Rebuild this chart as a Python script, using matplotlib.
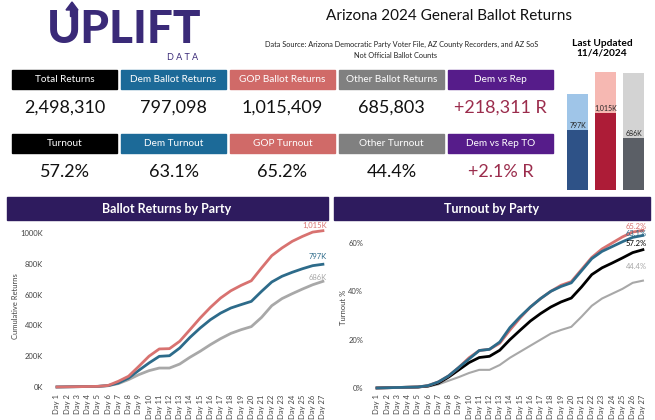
import matplotlib
matplotlib.use('Agg')
import matplotlib.pyplot as plt
from matplotlib.patches import Rectangle
import numpy as np

plt.rcParams['font.family'] = ['Lato', 'DejaVu Sans']

W, H = 655, 420

days = [f'Day {i}' for i in range(1, 28)]

# cumulative returns, thousands
rep_ret = [0, 1, 2, 3, 4, 10, 37, 70, 134, 200, 247, 249, 297, 372, 448, 517, 578, 625, 660, 690, 773, 853, 903, 946, 978, 1006, 1015]
dem_ret = [0, 1, 2, 3, 4, 9, 26, 58, 108, 156, 199, 203, 253, 322, 383, 437, 480, 513, 535, 556, 621, 682, 719, 745, 768, 788, 797]
oth_ret = [0, 1, 2, 3, 4, 8, 22, 48, 80, 106, 123, 123, 149, 193, 232, 275, 314, 348, 372, 392, 452, 528, 574, 606, 636, 664, 686]

# turnout %
tot_to = [0, 0.1, 0.2, 0.3, 0.4, 0.8, 2, 4.5, 7.5, 10.5, 12.6, 13.1, 15.6, 20, 23.9, 27.7, 30.8, 33.5, 35.6, 37.2, 41.8, 46.9, 49.7, 51.7, 53.8, 56, 57.2]
dem_to = [0, 0.1, 0.2, 0.3, 0.4, 1, 2.5, 5, 8.5, 12, 15.5, 16, 19, 25, 29.5, 33.5, 37, 40, 42, 43.5, 48.5, 53.5, 56.5, 58.5, 60.5, 62.3, 63.1]
rep_to = [0, 0.1, 0.2, 0.3, 0.4, 1, 2.5, 5, 8.5, 12.5, 15.5, 16, 18.5, 24, 29, 33.5, 37, 40, 42.5, 44, 49, 54, 57.5, 60, 62.5, 64.5, 65.2]
oth_to = [0, 0.1, 0.1, 0.2, 0.3, 0.6, 1.5, 3, 4.5, 6.2, 7.5, 7.5, 9.5, 12.5, 15, 17.5, 20, 22.5, 24, 25.3, 29.5, 34, 37, 39, 41, 43.5, 44.4]

# KPI cards
kpi_row1 = ['Total Returns', 'Dem Ballot Returns', 'GOP Ballot Returns', 'Other Ballot Returns', 'Dem vs Rep']
kpi_val1 = ['2,498,310', '797,098', '1,015,409', '685,803', '+218,311 R']
kpi_row2 = ['Turnout', 'Dem Turnout', 'GOP Turnout', 'Other Turnout', 'Dem vs Rep TO']
kpi_val2 = ['57.2%', '63.1%', '65.2%', '44.4%', '+2.1% R']
kpi_colors = ['#000000', '#1c6a98', '#d06a68', '#808080', '#561c8a']

# stacked bars: returns vs registered (thousands)
bar_parties = ['Dem', 'GOP', 'Other']
bar_returns = [797, 1015, 686]
bar_registered = [1263, 1557, 1545]
bar_labels = ['797K', '1,015K', '686K']

fig = plt.figure(figsize=(W / 100, H / 100), dpi=100)


def fx(x):
    return x / W


def fy(y):
    return 1 - y / H


def rect(x0, y0, x1, y1):
    return [fx(x0), fy(y1), (x1 - x0) / W, (y1 - y0) / H]


logo = '#3a2a78'
fig.text(fx(124), fy(30), 'UPLIFT', fontsize=33, fontweight='black', color=logo,
         ha='center', va='center')
fig.text(fx(183), fy(57), 'D A T A', fontsize=6.5, color=logo, ha='center', va='center')
fig.patches.append(plt.Polygon([[fx(66), fy(10)], [fx(72), fy(2)], [fx(78), fy(10)]],
                               closed=True, color=logo, transform=fig.transFigure))
fig.patches.append(Rectangle((fx(70), fy(16)), 4 / W, 7 / H, color=logo,
                             transform=fig.transFigure))

fig.text(fx(449), fy(16), 'Arizona 2024 General Ballot Returns', fontsize=11,
         ha='center', va='center', color='#111111')
fig.text(fx(402), fy(44), 'Data Source: Arizona Democratic Party Voter File, AZ County Recorders, and AZ SoS',
         fontsize=5.3, ha='center', va='center', color='#222222')
fig.text(fx(396), fy(55), 'Not Official Ballot Counts', fontsize=5.3, ha='center', va='center',
         color='#222222')
fig.text(fx(602), fy(43), 'Last Updated', fontsize=7.3, fontweight='bold', ha='center', va='center')
fig.text(fx(602), fy(53), '11/4/2024', fontsize=7.3, fontweight='bold', ha='center', va='center')

# KPI cards
box_x = [12, 121, 230, 339, 448]
for i in range(5):
    x0 = box_x[i]
    for lab, val, yb, yv in [(kpi_row1[i], kpi_val1[i], 70, 108), (kpi_row2[i], kpi_val2[i], 134, 172)]:
        fig.patches.append(Rectangle((fx(x0), fy(yb + 19)), 105 / W, 19 / H,
                                     color=kpi_colors[i], transform=fig.transFigure))
        fig.text(fx(x0 + 52.5), fy(yb + 9.5), lab, fontsize=7.2, color='white',
                 ha='center', va='center')
        vcol = '#9b2c4c' if i == 4 else '#111111'
        fig.text(fx(x0 + 52.5), fy(yv), val, fontsize=13, color=vcol, ha='center', va='center')

# stacked bars
axb = fig.add_axes(rect(563.5, 68.6, 647.5, 190))
dark = ['#2e5287', '#ad1c37', '#5b5f66']
light = ['#9fc5e8', '#f6b8b2', '#d3d3d3']
xb = np.arange(3)
axb.bar(xb, bar_registered, width=0.75, color=light)
axb.bar(xb, bar_returns, width=0.75, color=dark)
for i in range(3):
    axb.text(xb[i], bar_returns[i] + 8, bar_labels[i], fontsize=5, ha='center', va='bottom',
             color='#222222')
axb.set_xlim(-0.5, 2.5)
axb.set_ylim(0, 1600)
axb.axis('off')

# panel headers
hdr = '#2e1b5e'
fig.patches.append(Rectangle((fx(7), fy(220)), 321 / W, 23 / H, color=hdr, transform=fig.transFigure))
fig.patches.append(Rectangle((fx(334), fy(220)), 316 / W, 23 / H, color=hdr, transform=fig.transFigure))
fig.text(fx(167), fy(209), 'Ballot Returns by Party', fontsize=9, fontweight='bold',
         color='white', ha='center', va='center')
fig.text(fx(492), fy(209), 'Turnout by Party', fontsize=9, fontweight='bold',
         color='white', ha='center', va='center')

c_rep = '#d87270'
c_dem = '#2d6b8a'
c_oth = '#a8a8a8'
x = np.arange(1, 28)


def style(ax):
    for s in ax.spines.values():
        s.set_visible(False)
    ax.tick_params(length=0, labelsize=5.5, labelcolor='#444444', pad=2)
    ax.tick_params(axis='y', pad=7)
    ax.set_xticks(x)
    ax.set_xticklabels(days, rotation=90, va='top')
    ax.set_xlim(0.6, 27.4)


ax1 = fig.add_axes(rect(52.9, 220.7, 327, 391.6))
ax1.plot(x, oth_ret, color=c_oth, lw=2)
ax1.plot(x, dem_ret, color=c_dem, lw=2)
ax1.plot(x, rep_ret, color=c_rep, lw=2)
style(ax1)
ax1.set_ylim(-30, 1080)
ax1.set_yticks([0, 200, 400, 600, 800, 1000])
ax1.set_yticklabels(['0K', '200K', '400K', '600K', '800K', '1000K'])
ax1.set_ylabel('Cumulative Returns', fontsize=5.5, color='#444444', labelpad=1)
ax1.text(27.4, 1015 + 10, '1,015K', fontsize=5.5, color=c_rep, ha='right', va='bottom', clip_on=False)
ax1.text(27.4, 797 + 25, '797K', fontsize=5.5, color=c_dem, ha='right', va='bottom', clip_on=False)
ax1.text(27.4, 686 + 5, '686K', fontsize=5.5, color=c_oth, ha='right', va='bottom', clip_on=False)

ax2 = fig.add_axes(rect(372.9, 223.6, 647, 391.6))
ax2.plot(x, oth_to, color=c_oth, lw=1.5)
ax2.plot(x, tot_to, color='black', lw=2)
ax2.plot(x, rep_to, color=c_rep, lw=2)
ax2.plot(x, dem_to, color=c_dem, lw=2)
style(ax2)
ax2.set_ylim(-1.5, 68)
ax2.set_yticks([0, 20, 40, 60])
ax2.set_yticklabels(['0%', '20%', '40%', '60%'])
ax2.set_ylabel('Turnout %', fontsize=5.5, color='#444444', labelpad=1)
ax2.text(27.4, 65.2 + 0.3, '65.2%', fontsize=5.5, color=c_rep, ha='right', va='bottom', clip_on=False)
ax2.text(27.4, 63.1 - 0.6, '63.1%', fontsize=5.5, color=c_dem, ha='right', va='bottom', clip_on=False)
ax2.text(27.4, 57.2 + 1.0, '57.2%', fontsize=5.5, color='black', ha='right', va='bottom', clip_on=False)
ax2.text(27.4, 44.4 + 4.5, '44.4%', fontsize=5.5, color=c_oth, ha='right', va='bottom', clip_on=False)

fig.savefig('out.png', dpi=100)
